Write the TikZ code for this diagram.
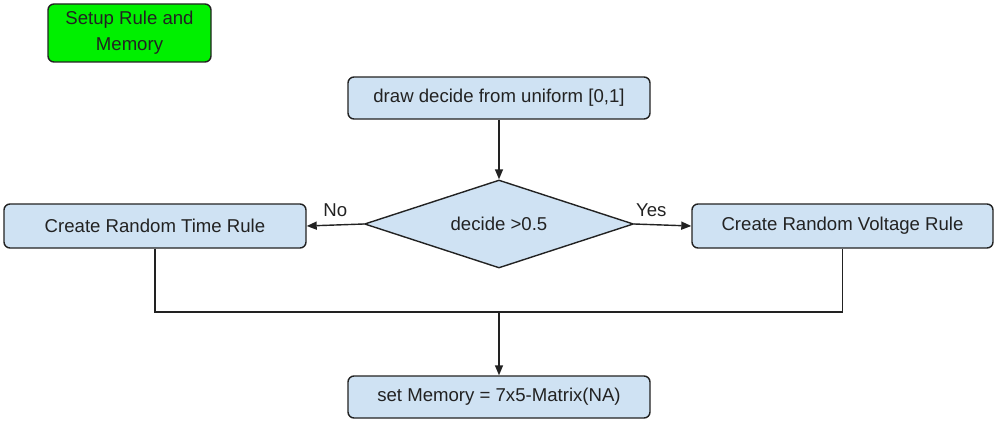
\documentclass[tikz,border=0pt]{standalone}
\usepackage{fontspec}
\setmainfont{Liberation Sans}
\usetikzlibrary{arrows.meta,shapes.geometric,calc}
\definecolor{boxblue}{HTML}{CFE2F3}
\definecolor{boxgreen}{HTML}{00F000}
\definecolor{edge}{HTML}{222222}
\begin{document}
\begin{tikzpicture}[x=1pt,y=-1pt,
  every node/.style={font=\fontsize{18.6}{26}\selectfont, text=edge},
  bluebox/.style={draw=edge, line width=1.4pt, fill=boxblue, rounded corners=6pt, inner sep=0pt},
  flow/.style={draw=edge, line width=1.4pt, -{Triangle[length=10pt,width=8pt]}},
  plain/.style={draw=edge, line width=1.4pt}]
\useasboundingbox (0,0) rectangle (1001,428);
\node[bluebox, fill=boxgreen, minimum width=163pt, minimum height=58pt, align=center] (setup) at (129.5,33) {Setup Rule and\\Memory};
\node[bluebox, minimum width=302pt, minimum height=42pt] (top) at (499,98) {draw decide from uniform [0,1]};
\node[diamond, draw=edge, line width=1.4pt, fill=boxblue, minimum width=269pt, minimum height=88pt, inner sep=0pt, aspect=3] (dec) at (499,224) {decide >0.5};
\node[bluebox, minimum width=302pt, minimum height=44pt] (left) at (155,226) {Create Random Time Rule};
\node[bluebox, minimum width=301pt, minimum height=44pt] (right) at (842.5,226) {Create Random Voltage Rule};
\node[bluebox, minimum width=302pt, minimum height=42pt] (bot) at (499,397) {set Memory = 7x5-Matrix(NA)};
\coordinate (merge) at (499,312);
\draw[flow] (top.south) -- (dec.north);
\draw[flow] (dec.west) -- (left.east) node[pos=0.5, above=4pt] (no) {No};
\draw[flow] (dec.east) -- (right.east -| right.west) node[pos=0.3, above=4pt] (yes) {Yes};
\draw[plain] (left.south) |- (merge) -| (right.south);
\draw[flow] (merge) -- (bot.north);
\end{tikzpicture}
\end{document}
